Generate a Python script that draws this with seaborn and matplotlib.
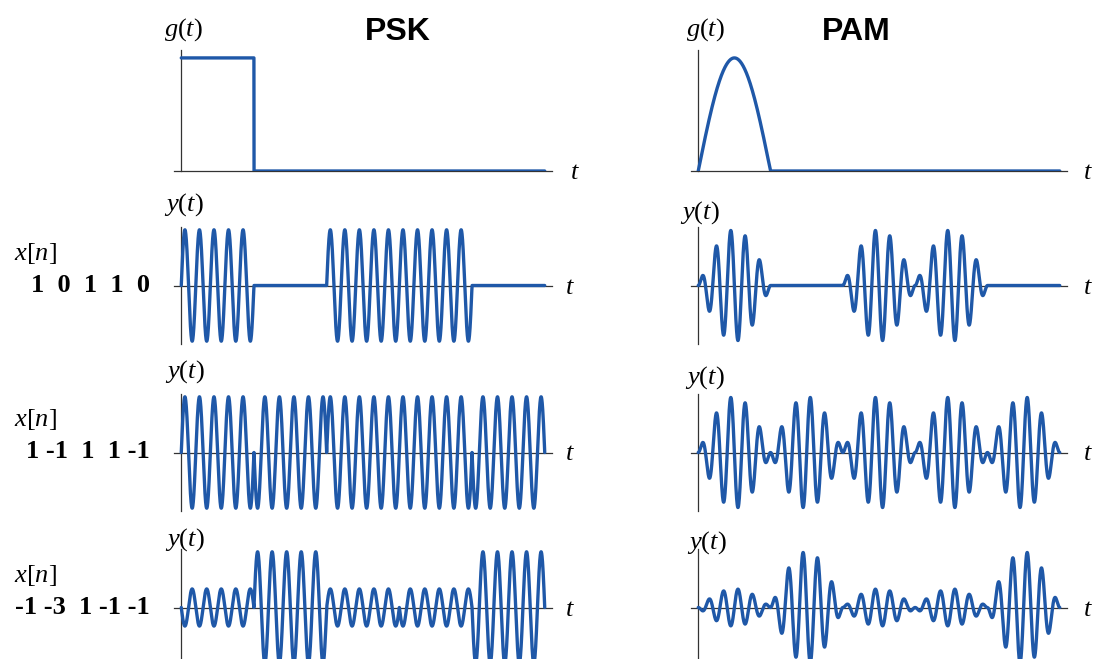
import numpy as np
import matplotlib
matplotlib.use("Agg")
import matplotlib.pyplot as plt
import seaborn as sns

# symbol sequences (labels as printed, amplitudes as drawn)
seq_labels = ["1  0  1  1  0", "1 -1  1  1 -1", "-1 -3  1 -1 -1"]
seq_row1 = [1, 0, 1, 1, 0]
seq_row2 = [1, -1, 1, 1, -1]
seq_row3 = [-1, 3, 1, -1, -3]
sequences = [seq_row1, seq_row2, seq_row3]
column_titles = ["PSK", "PAM"]
n_symbols = 5
cycles_per_symbol = 5

W, H = 1093, 659
BLUE = "#1f58a8"
AXC = "#333333"

sns.set_style("white")
plt.rcParams["font.family"] = ["Liberation Serif", "DejaVu Serif"]
plt.rcParams["text.color"] = "black"
plt.rcParams["mathtext.fontset"] = "custom"
plt.rcParams["mathtext.rm"] = "Liberation Serif"
plt.rcParams["mathtext.it"] = "Liberation Serif:italic"
plt.rcParams["mathtext.bf"] = "Liberation Serif:bold"

fig = plt.figure(figsize=(W / 100, H / 100), dpi=100)


def px_axes(x0, y0, x1, y1):
    # pixel box (top-left origin) -> figure axes
    return fig.add_axes([x0 / W, 1 - y1 / H, (x1 - x0) / W, (y1 - y0) / H])


def ftext(x, y, s, **kw):
    fig.text(x / W, 1 - y / H, s, **kw)


def pulse(kind, tau):
    inside = (tau >= 0) & (tau < 1)
    if kind == "PSK":
        return np.where(inside, 1.0, 0.0)
    return np.where(inside, np.sin(np.pi * np.clip(tau, 0, 1)), 0.0)


def style_axes(ax, ylim):
    ax.set_xlim(-0.1, n_symbols + 0.1)
    ax.set_ylim(*ylim)
    ax.patch.set_alpha(0)
    for side in ["top", "right"]:
        ax.spines[side].set_visible(False)
    ax.spines["left"].set_position(("data", 0))
    ax.spines["bottom"].set_position(("data", 0))
    for side in ["left", "bottom"]:
        ax.spines[side].set_color(AXC)
        ax.spines[side].set_linewidth(0.9)
    ax.set_xticks(range(1, n_symbols))
    ax.set_yticks([])
    ax.tick_params(axis="x", direction="in", length=3, width=0.8,
                   colors=AXC, labelbottom=False)
    ax.set_xlabel("")
    ax.set_ylabel("")


t = np.linspace(0, n_symbols, 8001)
carrier = np.sin(2 * np.pi * cycles_per_symbol * t)
idx = np.clip(np.floor(t).astype(int), 0, n_symbols - 1)

# column geometry in pixels: (axes left, axes right, title x, t-label x)
cols = {"PSK": (174, 552, 398, 575), "PAM": (691, 1067, 856, 1088)}
# row geometry: (axes top, axes bottom, ylim)
rows = [(50, 171, (0, 1.07)),
        (227, 344, (-1.05, 1.05)),
        (394, 511, (-1.05, 1.05)),
        (549, 666, (-3.15, 3.15))]
ylab_pos = {"PSK": [(183, 30), (184, 205), (185, 372), (185, 540)],
            "PAM": [(705, 30), (700, 213), (705, 378), (707, 543)]}

for kind in column_titles:
    x0, x1, tx, lx = cols[kind]
    ftext(tx, 32, kind, ha="center", va="center", fontsize=23,
          fontweight="bold", family=["Liberation Sans", "DejaVu Sans"])
    for r, (y0, y1, ylim) in enumerate(rows):
        ax = px_axes(x0, y0, x1, y1)
        if r == 0:
            y = pulse(kind, t)
        else:
            amp = np.array(sequences[r - 1])[idx]
            y = amp * pulse(kind, t - idx) * carrier
        sns.lineplot(x=t, y=y, ax=ax, color=BLUE, linewidth=2.4,
                     estimator=None, sort=False, zorder=3)
        style_axes(ax, ylim)
        base = y1 - (y1 - y0) * (0 - ylim[0]) / (ylim[1] - ylim[0])
        ftext(lx if r == 0 or kind == "PAM" else lx - 5, base + 2, "$t$",
              ha="center", va="center", fontsize=19)
        gx, gy = ylab_pos[kind][r]
        ftext(gx, gy, "$g(t)$" if r == 0 else "$y(t)$",
              ha="center", va="center", fontsize=19)

# symbol labels on the left
for lab, y in zip(seq_labels, [285, 452, 607]):
    ftext(35, y - 32, "$x[n]$", ha="center", va="center", fontsize=19)
    ftext(150, y, lab, ha="right", va="center", fontsize=19,
          fontweight="bold")

fig.savefig("out.png", dpi=100)
